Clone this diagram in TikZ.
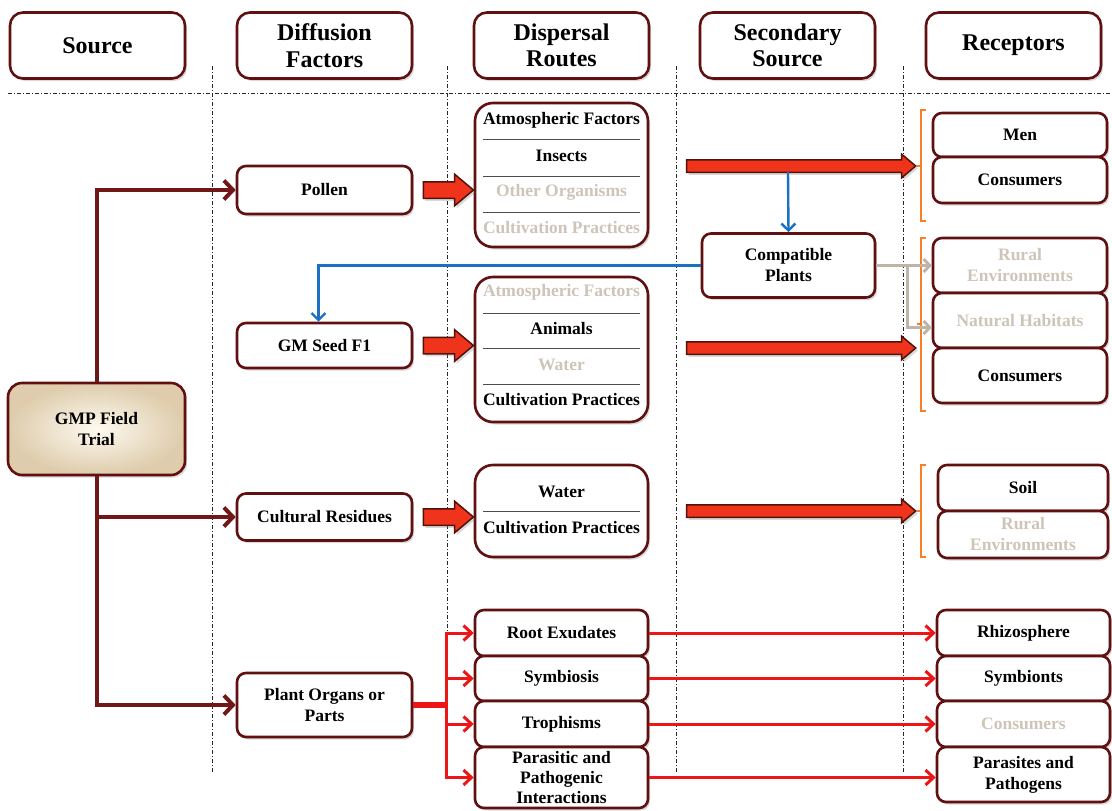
\documentclass[tikz,border=0pt]{standalone}
\usepackage{fontspec}
\setmainfont{Liberation Serif}
\usetikzlibrary{arrows.meta,shapes.arrows,shadows,calc}
\definecolor{frame}{RGB}{96,16,16}
\definecolor{trunk}{RGB}{112,24,24}
\definecolor{ghost}{RGB}{206,196,184}
\definecolor{fatred}{RGB}{240,52,28}
\definecolor{fatedge}{RGB}{80,18,10}
\definecolor{thinred}{RGB}{236,22,22}
\definecolor{flowblue}{RGB}{28,112,192}
\definecolor{bracketc}{RGB}{246,128,40}
\definecolor{greyflow}{RGB}{190,180,168}
\definecolor{gmpin}{RGB}{253,250,240}
\definecolor{gmpout}{RGB}{222,204,172}
\newcommand{\bodyfont}{\fontsize{17.5}{21}\selectfont\bfseries}
\newcommand{\headfont}{\fontsize{24}{26.5}\selectfont\bfseries}
\begin{document}
\begin{tikzpicture}[x=1pt,y=-1pt,
  softshadow/.style={drop shadow={shadow xshift=2pt, shadow yshift=-2.5pt, opacity=0.3}},
  box/.style={draw=frame, line width=2.6pt, rounded corners=9pt, fill=white,
    align=center, font=\bodyfont, inner sep=1pt, softshadow},
  headbox/.style={box, font=\headfont, rounded corners=13pt,
    minimum width=175pt, minimum height=66pt},
  factor/.style={box, minimum width=175pt},
  routebox/.style={box, rounded corners=18pt, minimum width=173pt},
  recbox/.style={box, minimum width=174pt},
  rowtext/.style={font=\bodyfont, inner sep=0pt},
  ghosttext/.style={rowtext, text=ghost},
  sep/.style={draw=black!70, line width=0.9pt},
  guide/.style={draw=black!85, line width=0.7pt,
    dash pattern=on 4pt off 2pt on 1pt off 2pt},
  fatshort/.style={single arrow, draw=fatedge, fill=fatred, line width=1.5pt,
    inner xsep=0pt, inner ysep=7.5pt, single arrow head extend=7.5pt,
    single arrow tip angle=80, minimum height=50pt, softshadow},
  fatlong/.style={fatshort, inner ysep=5.5pt, single arrow head extend=5.5pt,
    minimum height=229pt},
  trunkarrow/.style={draw=trunk, line width=4pt, line join=miter,
    -{Straight Barb[length=9pt,width=19pt]}},
  redarrow/.style={draw=thinred, line width=3pt,
    -{Straight Barb[length=8pt,width=15pt]}},
  bluearrow/.style={draw=flowblue, line width=2.4pt,
    -{Straight Barb[length=7pt,width=14pt]}},
  greyarrow/.style={draw=greyflow, line width=3pt,
    -{Straight Barb[length=6pt,width=13pt]}},
  bracket/.style={draw=bracketc, line width=2.4pt}
]
\useasboundingbox (0,0) rectangle (1112,811);

% column guides
\draw[guide] (8,93) -- (1112,93);
\foreach \gx in {212,447,676,903}
  \draw[guide] (\gx,66) -- (\gx,773);

% column headers
\node[headbox] (hsource) at (97.5,45.5) {Source};
\node[headbox] (hdiff) at (324.5,45.5) {Diffusion\\Factors};
\node[headbox] (hdisp) at (561.5,45.5) {Dispersal\\Routes};
\node[headbox] (hsec) at (787.5,45.5) {Secondary\\Source};
\node[headbox] (hrec) at (1013.5,45.5) {Receptors};

% source
\node[box, rounded corners=14pt, minimum width=177pt, minimum height=92pt,
  inner color=gmpin, outer color=gmpout] (gmp) at (96.5,429) {GMP Field\\Trial};

% diffusion factors
\node[factor, minimum height=48pt] (pollen) at (324.5,190) {Pollen};
\node[factor, minimum height=45pt] (seed) at (324.5,345.5) {GM Seed F1};
\node[factor, minimum height=47pt] (resid) at (324.5,517) {Cultural Residues};
\node[factor, minimum height=64pt] (organs) at (324.5,705) {Plant Organs or\\Parts};

% dispersal routes
\node[routebox, minimum height=144pt] (route1) at (561.5,175) {};
\node[rowtext] (r1a) at (561.5,120) {Atmospheric Factors};
\node[rowtext] (r1b) at (561.5,156) {Insects};
\node[ghosttext] (r1c) at (561.5,192) {Other Organisms};
\node[ghosttext] (r1d) at (561.5,228) {Cultivation Practices};
\foreach \ly in {139,176,212} \draw[sep] (483,\ly) -- (640,\ly);

\node[routebox, minimum height=145pt] (route2) at (561.5,349.5) {};
\node[ghosttext] (r2a) at (561.5,292) {Atmospheric Factors};
\node[rowtext] (r2b) at (561.5,329) {Animals};
\node[ghosttext] (r2c) at (561.5,365) {Water};
\node[rowtext] (r2d) at (561.5,400) {Cultivation Practices};
\foreach \ly in {313,348,384} \draw[sep] (483,\ly) -- (640,\ly);

\node[routebox, minimum height=92pt] (route3) at (561.5,511) {};
\node[rowtext] (r3a) at (561.5,492) {Water};
\node[rowtext] (r3b) at (561.5,528) {Cultivation Practices};
\draw[sep] (483,511) -- (640,511);

\node[box, minimum width=173pt, minimum height=46pt] (root) at (561.5,633) {Root Exudates};
\node[box, minimum width=173pt, minimum height=45pt] (symb) at (561.5,678.5) {Symbiosis};
\node[box, minimum width=173pt, minimum height=46pt] (troph) at (561.5,724) {Trophisms};
\node[box, minimum width=173pt, minimum height=61pt, font=\fontsize{17.5}{20}\selectfont\bfseries] (para) at (561.5,777.5) {Parasitic and\\Pathogenic\\Interactions};

% secondary source
\node[box, minimum width=173pt, minimum height=64pt] (compat) at (788.5,265.5) {Compatible\\Plants};

% receptors
\node[recbox, minimum height=44pt] (men) at (1020,135) {Men};
\node[recbox, minimum height=46pt] (cons1) at (1020,180) {Consumers};
\node[recbox, minimum height=55pt, text=ghost] (rural1) at (1020,265.5) {Rural\\Environments};
\node[recbox, minimum height=55pt, text=ghost] (habitat) at (1020,320.5) {Natural Habitats};
\node[recbox, minimum height=55pt] (cons2) at (1020,375.5) {Consumers};
\node[recbox, minimum width=170pt, minimum height=46pt] (soil) at (1023,488) {Soil};
\node[recbox, minimum width=170pt, minimum height=47pt, text=ghost] (rural2) at (1023,534.5) {Rural\\Environments};
\node[recbox, minimum width=173pt, minimum height=46pt] (rhizo) at (1023.5,633) {Rhizosphere};
\node[recbox, minimum width=173pt, minimum height=45pt] (symbionts) at (1023.5,678.5) {Symbionts};
\node[recbox, minimum width=173pt, minimum height=46pt, text=ghost] (cons4) at (1023.5,724) {Consumers};
\node[recbox, minimum width=173pt, minimum height=55pt] (parasites) at (1023.5,774.5) {Parasites and\\Pathogens};

% receptor brackets
\draw[bracket] (926,110) -- (921,110) -- (921,221) -- (926,221) (921,166) -- (917,166);
\draw[bracket] (926,238) -- (921,238) -- (921,411) -- (926,411) (921,324) -- (917,324);
\draw[bracket] (926,465) -- (921,465) -- (921,557) -- (926,557) (921,511) -- (917,511);

% block arrows into and out of the dispersal routes
\node[fatshort] (f1) at ($(pollen.east)!0.5!(route1.west |- pollen.east)$) {};
\node[fatshort] (f2) at ($(seed.east)!0.5!(route2.west |- seed.east)$) {};
\node[fatshort] (f3) at ($(resid.east)!0.5!(route3.west |- resid.east)$) {};
\node[fatlong] (l1) at (797.5,166) {};
\node[fatlong] (l2) at (797.5,348) {};
\node[fatlong] (l3) at (797.5,511) {};

% source trunk
\draw[trunkarrow] (gmp.north) |- (pollen.west);
\draw[trunkarrow] (gmp.south) |- (resid.west);
\draw[trunkarrow] (gmp.south) |- (organs.west);

% compatible plants
\coordinate (tap) at (788,172);
\draw[bluearrow] (tap) -- (compat.north);
\draw[bluearrow] (compat.west) -| ([xshift=-6pt]seed.north);
\coordinate (gsplit) at (907,265.5);
\draw[greyarrow] (compat.east) -- (rural1.west);
\draw[greyarrow] (gsplit) |- ($(habitat.west)+(0,7)$);

% plant organs fan-out
\coordinate (fork) at (446,705);
\draw[draw=thinred, line width=6pt] (organs.east) -- (fork);
\foreach \t in {root,symb,troph,para}
  \draw[redarrow] (fork) |- (\t.west);
\draw[redarrow] (root.east) -- (rhizo.west);
\draw[redarrow] (symb.east) -- (symbionts.west);
\draw[redarrow] (troph.east) -- (cons4.west);
\draw[redarrow] (para.east) -- (para.east -| parasites.west);
\end{tikzpicture}
\end{document}
